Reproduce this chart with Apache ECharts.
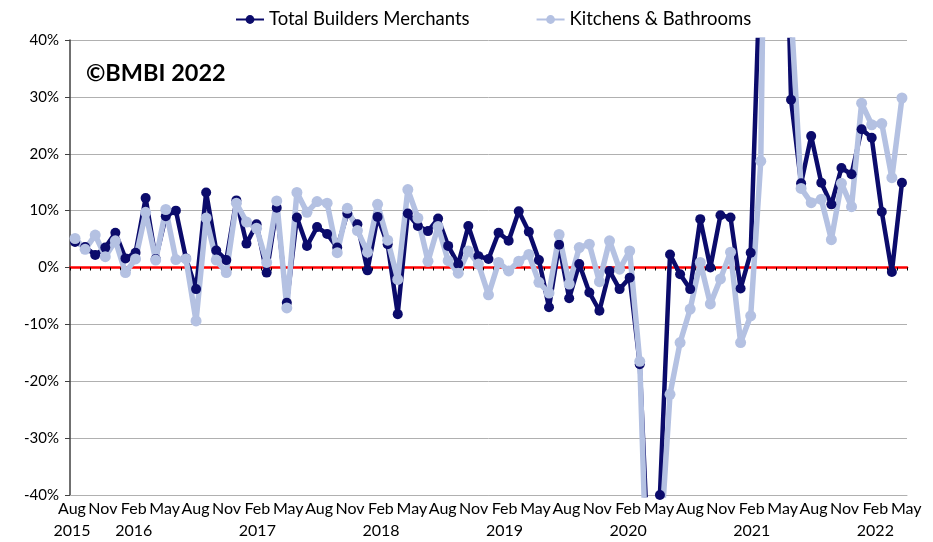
<!DOCTYPE html>
<html><head><meta charset="utf-8">
<script src="https://cdn.jsdelivr.net/npm/echarts@6/dist/echarts.min.js"></script>
<style>html,body{margin:0;padding:0;background:#fff}#c{width:933px;height:542px}</style>
</head><body><div id="c"></div>
<script>
const categories = [
 'Jul 2015','Aug 2015','Sep 2015','Oct 2015','Nov 2015','Dec 2015',
 'Jan 2016','Feb 2016','Mar 2016','Apr 2016','May 2016','Jun 2016','Jul 2016','Aug 2016','Sep 2016','Oct 2016','Nov 2016','Dec 2016',
 'Jan 2017','Feb 2017','Mar 2017','Apr 2017','May 2017','Jun 2017','Jul 2017','Aug 2017','Sep 2017','Oct 2017','Nov 2017','Dec 2017',
 'Jan 2018','Feb 2018','Mar 2018','Apr 2018','May 2018','Jun 2018','Jul 2018','Aug 2018','Sep 2018','Oct 2018','Nov 2018','Dec 2018',
 'Jan 2019','Feb 2019','Mar 2019','Apr 2019','May 2019','Jun 2019','Jul 2019','Aug 2019','Sep 2019','Oct 2019','Nov 2019','Dec 2019',
 'Jan 2020','Feb 2020','Mar 2020','Apr 2020','May 2020','Jun 2020','Jul 2020','Aug 2020','Sep 2020','Oct 2020','Nov 2020','Dec 2020',
 'Jan 2021','Feb 2021','Mar 2021','Apr 2021','May 2021','Jun 2021','Jul 2021','Aug 2021','Sep 2021','Oct 2021','Nov 2021','Dec 2021',
 'Jan 2022','Feb 2022','Mar 2022','Apr 2022','May 2022'
];
const totalMerchants = [
 4.5, 3.6, 2.2, 3.5, 6.1, 1.6, 2.6, 12.2, 1.5, 9,
 10.0, 1.6, -3.8, 13.2, 3.0, 1.3, 11.8, 4.2, 7.6, -0.9,
 10.5, -6.2, 8.8, 3.8, 7.1, 5.9, 3.5, 9.5, 7.6, -0.5,
 8.9, 4.1, -8.2, 9.5, 7.3, 6.4, 8.6, 3.8, 0.6, 7.3,
 2.0, 1.5, 6.1, 4.7, 9.9, 6.3, 1.3, -7.0, 4.0, -5.4,
 0.6, -4.4, -7.6, -0.6, -3.8, -1.8, -17, -57, -40, 2.3,
 -1.2, -3.8, 8.5, 0, 9.2, 8.8, -3.7, 2.6, 56, 200,
 100, 29.5, 14.8, 23.1, 14.9, 11.1, 17.5, 16.4, 24.3, 22.8,
 9.8, -0.8, 14.9
];
const kitchensBathrooms = [
 5.1, 3.2, 5.7, 1.9, 4.7, -0.9, 1.5, 9.7, 1.3, 10.2,
 1.4, 1.5, -9.4, 8.7, 1.3, -0.9, 11.3, 8.0, 6.9, 0.9,
 11.7, -7.1, 13.2, 9.7, 11.6, 11.3, 2.6, 10.4, 6.5, 2.7,
 11.1, 4.8, -2.1, 13.7, 8.7, 1.1, 7.2, 1.2, -1.0, 2.9,
 0.6, -4.8, 0.9, -0.6, 1.1, 2.3, -2.6, -4.5, 5.8, -2.9,
 3.5, 4.1, -2.5, 4.7, -0.3, 2.9, -16.5, -72, -50, -22.3,
 -13.2, -7.3, 0.9, -6.4, -2.0, 2.7, -13.2, -8.5, 18.7, 150,
 80, 45, 13.9, 11.4, 12.0, 4.9, 14.8, 10.7, 28.9, 25.1,
 25.3, 15.8, 29.8
];
// axis tick labels as printed under the chart (every third month)
const tickLabels = [
 'Aug\n2015','Nov','Feb\n2016','May','Aug','Nov','Feb\n2017','May','Aug','Nov',
 'Feb\n2018','May','Aug','Nov','Feb\n2019','May','Aug','Nov','Feb\n2020','May',
 'Aug','Nov','Feb\n2021','May','Aug','Nov','Feb\n2022','May'
];
const seriesNames = ['Total Builders Merchants', 'Kitchens & Bathrooms'];
const yTicks = [-40, -30, -20, -10, 0, 10, 20, 30, 40];

const FONT = 'Lato';
const chart = echarts.init(document.getElementById('c'), null, {renderer: 'canvas'});
chart.setOption({
  animation: false,
  backgroundColor: '#ffffff',
  textStyle: {fontFamily: FONT},
  grid: [
    {left: 70, right: 26, top: 40, bottom: 47, containLabel: false},
    {left: 56.5, width: 865.2, top: 40, bottom: 47, containLabel: false, show: false}
  ],
  legend: {
    data: seriesNames, top: 5, left: 230, itemGap: 66, itemWidth: 28, itemHeight: 11,
    textStyle: {fontFamily: FONT, fontSize: 18.5, color: '#000'}
  },
  graphic: [{
    type: 'text', left: 86, top: 61,
    style: {text: '©BMBI 2022', font: 'bold 23.5px ' + FONT, fill: '#000'}
  }],
  xAxis: [{
    type: 'category', data: categories, boundaryGap: true, gridIndex: 0,
    axisLine: {show: true, onZero: false, lineStyle: {color: '#b0b0b0', width: 1}},
    axisTick: {show: false},
    axisLabel: {show: false},
    splitLine: {show: false}
  }, {
    type: 'category', data: categories, boundaryGap: true, position: 'bottom', gridIndex: 0,
    axisLine: {show: true, onZero: true, lineStyle: {color: '#ff0000', width: 2.5}},
    axisTick: {show: true, interval: 0, length: 3, lineStyle: {color: '#000', width: 1}},
    axisLabel: {show: false}, splitLine: {show: false}
  }, {
    type: 'category', data: tickLabels, boundaryGap: true, position: 'bottom', gridIndex: 1,
    axisLine: {show: false, onZero: false}, axisTick: {show: false}, splitLine: {show: false},
    axisLabel: {interval: 0, hideOverlap: false, fontFamily: FONT, fontSize: 16, color: '#000', lineHeight: 22, margin: 6}
  }],
  yAxis: [{
    type: 'value', min: yTicks[0], max: yTicks[yTicks.length - 1], interval: 10, gridIndex: 0,
    axisLine: {show: true, lineStyle: {color: '#404040', width: 1.5}},
    axisTick: {show: true, length: 5, lineStyle: {color: '#404040'}},
    axisLabel: {fontFamily: FONT, fontSize: 15, color: '#000', margin: 11, formatter: v => v + '%'},
    splitLine: {show: true, lineStyle: {color: '#b0b0b0', width: 1}}
  }, {
    type: 'value', gridIndex: 1, show: false, min: 0, max: 1
  }],
  series: [{
    name: seriesNames[0], type: 'line', data: totalMerchants, clip: true,
    xAxisIndex: 0, yAxisIndex: 0,
    symbol: 'circle', symbolSize: 10, showAllSymbol: true,
    lineStyle: {color: '#0b0b6b', width: 4.5},
    itemStyle: {color: '#0b0b6b'}
  }, {
    name: seriesNames[1], type: 'line', data: kitchensBathrooms, clip: true,
    xAxisIndex: 0, yAxisIndex: 0,
    symbol: 'circle', symbolSize: 11, showAllSymbol: true,
    lineStyle: {color: '#b4c1e2', width: 5.5},
    itemStyle: {color: '#b4c1e2'}
  }]
});
</script></body></html>
